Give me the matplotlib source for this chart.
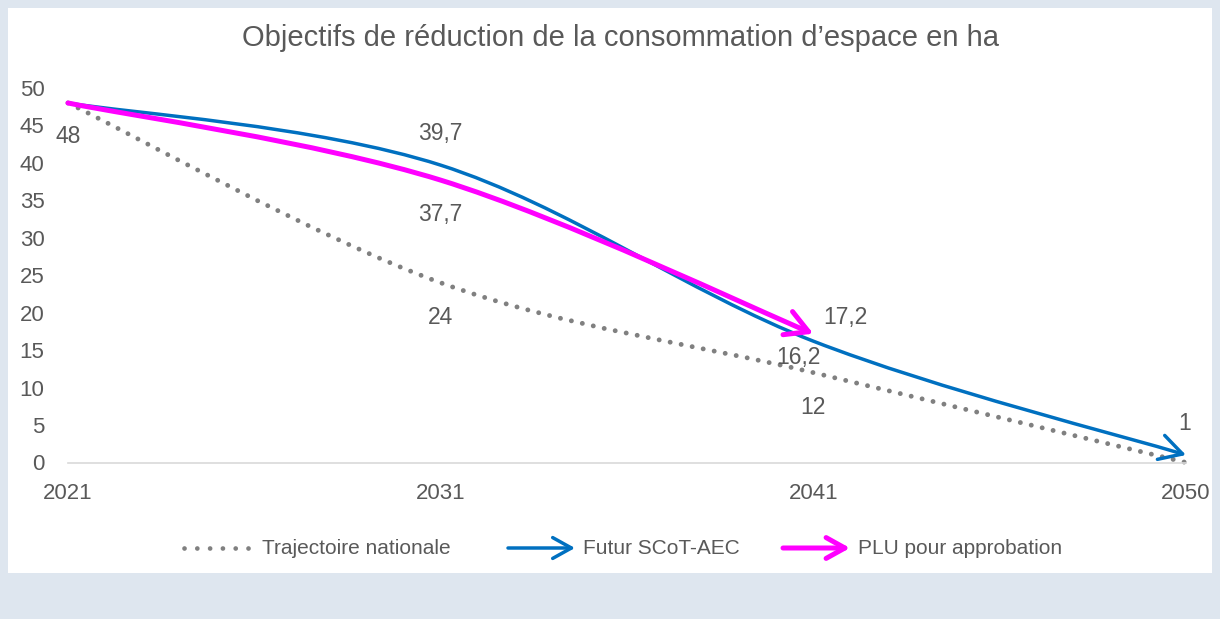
import numpy as np
import matplotlib
matplotlib.use("Agg")
import matplotlib.pyplot as plt
from matplotlib.path import Path
from matplotlib.patches import PathPatch, FancyArrowPatch, Rectangle
from matplotlib.lines import Line2D

annees = ['2021', '2031', '2041', '2050']
trajectoire = [48, 24, 12, 0]
scot = [48, 39.7, 16.2, 1]
plu = [48, 37.7, 17.2]

GRIS = '#595959'
W, H = 1220, 619

plt.rcParams['font.family'] = ['Liberation Sans', 'DejaVu Sans']


def courbe(y):
    # courbe lissee facon Excel (Bezier cubique, Catmull-Rom /6)
    pts = np.column_stack([np.arange(len(y), dtype=float), np.asarray(y, float)])
    n = len(pts)
    verts = [pts[0]]
    codes = [Path.MOVETO]
    for i in range(n - 1):
        p0, p1 = pts[max(i - 1, 0)], pts[i]
        p2, p3 = pts[i + 1], pts[min(i + 2, n - 1)]
        verts += [p1 + (p2 - p0) / 6, p2 - (p3 - p1) / 6, p2]
        codes += [Path.CURVE4] * 3
    return Path(verts, codes)


def fx(px):
    return px / W


def fy(py):
    return 1 - py / H


def fmt(v):
    return f"{v:g}".replace('.', ',')


fig = plt.figure(figsize=(12.2, 6.19), dpi=100, facecolor='#dee6ef')
fig.add_artist(Rectangle((fx(8), fy(573)), fx(1204), (573 - 8) / H,
                         transform=fig.transFigure, facecolor='white',
                         edgecolor='none', zorder=0))

ax = fig.add_axes([fx(68), fy(462.5), fx(1186 - 68), (462.5 - 88) / H])
ax.patch.set_visible(False)
ax.set_xlim(0, 3)
ax.set_ylim(0, 50)
for s in ['top', 'right', 'left']:
    ax.spines[s].set_visible(False)
ax.spines['bottom'].set_color('#d9d9d9')
ax.spines['bottom'].set_linewidth(1.2)
ax.set_xticks(range(len(annees)))
ax.set_xticklabels(annees)
ax.set_yticks(np.arange(0, 51, 5))
ax.tick_params(axis='y', length=0, pad=17, labelsize=16, labelcolor=GRIS)
ax.tick_params(axis='x', length=0, pad=15, labelsize=16, labelcolor=GRIS)

# trajectoire nationale (pointilles)
ax.add_patch(PathPatch(courbe(trajectoire), fill=False, edgecolor='#808080',
                       lw=3.5, linestyle=(0, (0.01, 2.3)), capstyle='round',
                       clip_on=False, zorder=2))
# futur SCoT
ax.add_patch(FancyArrowPatch(path=courbe(scot), transform=ax.transData,
                             arrowstyle='->,head_length=0.45,head_width=0.25',
                             mutation_scale=36, color='#0070c0', lw=2.5,
                             clip_on=False, zorder=3))
# PLU
ax.add_patch(FancyArrowPatch(path=courbe(plu), transform=ax.transData,
                             arrowstyle='->,head_length=0.45,head_width=0.25',
                             mutation_scale=36, color='#ff00ff', lw=3.6,
                             capstyle='round', clip_on=False, zorder=4))

# etiquettes
lab = dict(textcoords='offset points', ha='center', va='center',
           fontsize=16.5, color=GRIS, zorder=5)
off_traj = [(0, -24), (0, -25), (0, -25)]
for i, d in enumerate(off_traj):
    ax.annotate(fmt(trajectoire[i]), (i, trajectoire[i]), xytext=d, **lab)
off_scot = [None, (0, 23), (-11, -12), (-1, 23)]
for i, d in enumerate(off_scot):
    if d is not None:
        ax.annotate(fmt(scot[i]), (i, scot[i]), xytext=d, **lab)
off_plu = [None, (0, -25), (23, 12)]
for i, d in enumerate(off_plu):
    if d is not None:
        ax.annotate(fmt(plu[i]), (i, plu[i]), xytext=d, **lab)

fig.text(fx(621), fy(38), "Objectifs de réduction de la consommation d’espace en ha",
         ha='center', va='center', fontsize=21, color=GRIS)

# legende
ly = fy(548)
fig.add_artist(Line2D([fx(184), fx(249)], [ly, ly], transform=fig.transFigure,
                      color='#808080', lw=3.4, linestyle=(0, (0.01, 2.7)),
                      dash_capstyle='round'))
for x0, x1, c, w in [(508, 575, '#0070c0', 2.5), (783, 850, '#ff00ff', 3.6)]:
    fig.add_artist(FancyArrowPatch((fx(x0), ly), (fx(x1), ly), transform=fig.transFigure,
                                   arrowstyle='->,head_length=0.45,head_width=0.25',
                                   mutation_scale=30, color=c, lw=w,
                                   shrinkA=0, shrinkB=0))
leg = dict(ha='left', va='center', fontsize=15, color=GRIS)
fig.text(fx(262), ly, "Trajectoire nationale", **leg)
fig.text(fx(583), ly, "Futur SCoT-AEC", **leg)
fig.text(fx(858), ly, "PLU pour approbation", **leg)

plt.savefig('out.png', dpi=100, facecolor=fig.get_facecolor())
